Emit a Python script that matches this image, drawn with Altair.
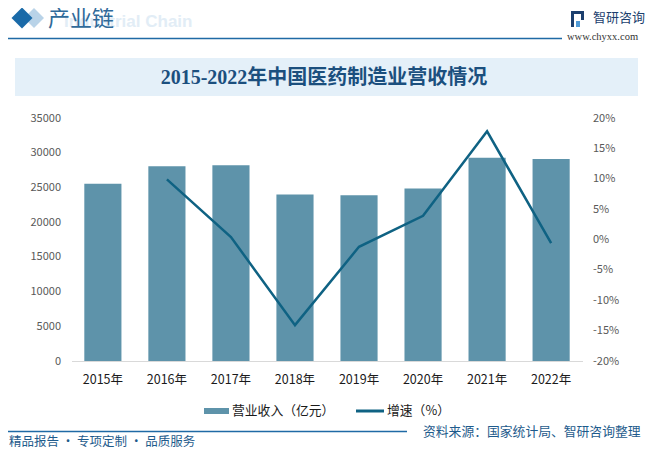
import altair as alt
import pandas as pd

# ---- data ----
years = ["2015年", "2016年", "2017年", "2018年", "2019年", "2020年", "2021年", "2022年"]
revenue = [25537, 28062, 28185, 23986, 23885, 24857, 29288, 29111]
growth_years = ["2016年", "2017年", "2018年", "2019年", "2020年", "2021年", "2022年"]
growth = [9.9, 0.4, -14.1, -1.2, 3.9, 17.8, -0.6]
left_ticks = [0, 5000, 10000, 15000, 20000, 25000, 30000, 35000]
right_ticks = [-20, -15, -10, -5, 0, 5, 10, 15, 20]

title_text = "2015-2022年中国医药制造业营收情况"
legend_bar = "营业收入（亿元）"
legend_line = "增速（%）"

# ---- style ----
BAR = "#5e93aa"
LINE = "#0f6283"
BLUE = "#1f6aa5"
CJK = "Noto Sans CJK SC"
OX, OY = 71.5, 118      # plot origin in page pixels
W, H = 511, 243
CW, CH = 637, 440

one = alt.Data(values=[{"k": 1}])


def T(txt, X, Y, size, color, weight="normal", align="left", font=CJK):
    return alt.Chart(one).mark_text(
        text=txt, align=align, baseline="middle", fontSize=size, color=color,
        fontWeight=weight, font=font
    ).encode(x=alt.value(X - OX), y=alt.value(Y - OY))


def R(x1, x2, y1, y2, color):
    return alt.Chart(one).mark_rect(color=color).encode(
        x=alt.value(x1 - OX), x2=alt.value(x2 - OX),
        y=alt.value(y1 - OY), y2=alt.value(y2 - OY))


def HL(x1, x2, y, color, w=1.5):
    return alt.Chart(one).mark_rule(color=color, strokeWidth=w).encode(
        x=alt.value(x1 - OX), x2=alt.value(x2 - OX), y=alt.value(y - OY))


def DIA(X, Y, size, color):
    return alt.Chart(one).mark_point(shape="diamond", filled=True, size=size,
                                     color=color, opacity=1).encode(
        x=alt.value(X - OX), y=alt.value(Y - OY))


deco = [
    # header
    DIA(34, 18, 400, "#b9d3e8"),
    DIA(22, 18, 440, "#1a6aa8"),
    T("Industrial Chain", 64, 22, 17, "#e2edf6", weight="bold", font="Liberation Sans"),
    T("产业链", 48, 19, 22, "#2f6a9a"),
    HL(8, 562, 38.5, BLUE, 1.5),
    # logo
    R(571, 574, 11, 27, "#1c3f6e"),
    R(571, 584, 11, 14, "#1c3f6e"),
    R(581, 584, 11, 20, "#1c3f6e"),
    R(576, 580, 21, 27, "#4f9ad6"),
    T("智研咨询", 593, 18, 13, "#1c3f6e"),
    T("www.chyxx.com", 567, 37, 10.5, "#333333", font="Liberation Serif"),
    # title band
    R(15, 638, 58, 96, "#e4f0f9"),
    T(title_text, 324, 78, 20, "#1b4f7e", weight="bold",
      align="center", font="Liberation Serif, " + CJK),
    # legend
    R(204, 229, 408, 414, BAR),
    T(legend_bar, 232, 411, 12.8, "#1a1a1a"),
    HL(356, 384, 411, LINE, 3),
    T(legend_line, 387, 411, 12.8, "#1a1a1a"),
    # footer
    HL(8, 407, 431.5, BLUE, 1.5),
    T("精品报告 · 专项定制 · 品质服务", 9, 441.5, 12.5, "#1e5b8c"),
    T("资料来源：国家统计局、智研咨询整理", 423, 432, 12.8, "#1e5b8c"),
]

bar_df = pd.DataFrame({"year": years, "revenue": revenue})
line_df = pd.DataFrame({"year": growth_years, "growth": growth})

x_axis = alt.Axis(title=None, labelAngle=0, labelFontSize=12.5, labelColor="#1a1a1a",
                  labelFont=CJK, labelPadding=12, domainColor="#d9d9d9",
                  domainWidth=1, ticks=False, grid=False)
x_scale = alt.Scale(paddingInner=0.42, paddingOuter=0.2)

bars = alt.Chart(bar_df).mark_bar(color=BAR).encode(
    x=alt.X("year:N", sort=years, scale=x_scale, axis=x_axis),
    y=alt.Y("revenue:Q", scale=alt.Scale(domain=[0, 35000], nice=False),
            axis=alt.Axis(title=None, values=left_ticks, orient="left", format="d",
                          labelFontSize=11, labelColor="#595959", labelFont=CJK,
                          labelPadding=11, domain=False, ticks=False, grid=False)),
)

line = alt.Chart(line_df).mark_line(color=LINE, strokeWidth=2.5).encode(
    x=alt.X("year:N", sort=years),
    y=alt.Y("growth:Q", scale=alt.Scale(domain=[-20, 20], nice=False),
            axis=alt.Axis(title=None, values=right_ticks, orient="right",
                          labelExpr="datum.value + '%'",
                          labelFontSize=11, labelColor="#595959", labelFont=CJK,
                          labelPadding=10, domain=False, ticks=False, grid=False)),
)

chart = alt.layer(deco[0], *deco[1:], bars, line).resolve_scale(
    y="independent"
).properties(
    width=W, height=H,
    autosize=alt.AutoSizeParams(type="none"),
    padding={"left": OX - 8, "top": OY - 8,
             "right": CW - (OX - 8) - W, "bottom": CH - (OY - 8) - H},
    background="white",
).configure_view(stroke=None)

chart.save("out.html", embed_options={"renderer": "svg", "actions": False})
